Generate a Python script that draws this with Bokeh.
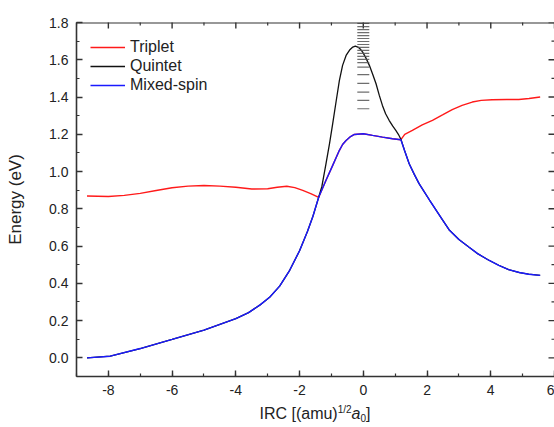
import math
from bokeh.plotting import figure
from bokeh.models import SingleIntervalTicker, NumeralTickFormatter, Legend, LegendItem, Span, Div
from bokeh.layouts import column
from bokeh.embed import file_html
from bokeh.resources import INLINE

# ---- data ----
triplet_x = [-8.67, -8.0, -7.5, -7.0, -6.5, -6.0, -5.5, -5.0, -4.5, -4.0, -3.5, -3.0, -2.7, -2.4,
             -2.15, -1.9, -1.65, -1.4,
             -1.17, -0.96, -0.75, -0.65, -0.54, -0.4, -0.28, 0.0, 0.29, 0.6, 0.92, 1.18,
             1.3, 1.54, 1.85, 2.17, 2.5, 2.79, 3.1, 3.42, 3.7, 4.04, 4.5, 4.88, 5.2, 5.55]
triplet_y = [0.869, 0.866, 0.872, 0.883, 0.898, 0.913, 0.922, 0.925, 0.922, 0.916, 0.906, 0.908, 0.916, 0.921,
             0.914, 0.899, 0.882, 0.862,
             0.953, 1.033, 1.114, 1.145, 1.167, 1.188, 1.199, 1.203, 1.194, 1.185, 1.176, 1.171,
             1.200, 1.221, 1.250, 1.275, 1.305, 1.332, 1.355, 1.373, 1.382, 1.385, 1.387, 1.387, 1.392, 1.400]

quintet_x = [-8.67, -7.94, -7.0, -6.0, -5.0, -4.0, -3.6, -3.25, -2.94, -2.625, -2.31, -2.0, -1.75, -1.58, -1.4,
             -1.3, -1.17, -1.06, -0.96, -0.85, -0.75, -0.65, -0.54, -0.43, -0.33, -0.25, -0.17, -0.08, -0.02,
             0.08, 0.19, 0.3, 0.4, 0.5, 0.6, 0.7, 0.81, 0.92, 1.02, 1.1, 1.18,
             1.3, 1.44, 1.6, 1.75, 2.08, 2.48, 2.69, 3.0, 3.31, 3.6, 3.94, 4.25, 4.56, 4.9, 5.19, 5.55]
quintet_y = [0.0, 0.009, 0.05, 0.099, 0.149, 0.211, 0.243, 0.283, 0.325, 0.385, 0.470, 0.575, 0.680, 0.760, 0.862,
             0.920, 1.042, 1.150, 1.257, 1.380, 1.489, 1.570, 1.623, 1.652, 1.668, 1.673, 1.668, 1.655, 1.641,
             1.610, 1.570, 1.520, 1.471, 1.410, 1.355, 1.310, 1.275, 1.245, 1.221, 1.200, 1.173,
             1.110, 1.042, 0.985, 0.935, 0.846, 0.742, 0.688, 0.635, 0.595, 0.558, 0.524, 0.497, 0.474, 0.458, 0.449, 0.443]

mixed_x = [-8.67, -7.94, -7.0, -6.0, -5.0, -4.0, -3.6, -3.25, -2.94, -2.625, -2.31, -2.0, -1.75, -1.58, -1.4,
           -1.17, -0.96, -0.75, -0.65, -0.54, -0.4, -0.28, 0.0, 0.29, 0.6, 0.92, 1.18,
           1.3, 1.44, 1.6, 1.75, 2.08, 2.48, 2.69, 3.0, 3.31, 3.6, 3.94, 4.25, 4.56, 4.9, 5.19, 5.55]
mixed_y = [0.0, 0.009, 0.05, 0.099, 0.149, 0.211, 0.243, 0.283, 0.325, 0.385, 0.470, 0.575, 0.680, 0.760, 0.862,
           0.953, 1.033, 1.114, 1.145, 1.167, 1.188, 1.199, 1.203, 1.194, 1.185, 1.176, 1.171,
           1.110, 1.042, 0.985, 0.935, 0.846, 0.742, 0.688, 0.635, 0.595, 0.558, 0.524, 0.497, 0.474, 0.458, 0.449, 0.443]

# stack of short horizontal marks at IRC = 0
marks_x = [0.0] * 20
marks_y = [1.795, 1.778, 1.762, 1.746, 1.730, 1.714, 1.698, 1.682, 1.666, 1.650,
           1.634, 1.618, 1.602, 1.585, 1.560, 1.520, 1.473, 1.426, 1.382, 1.337]

# tick positions of the top and right frame edges (no labels there)
top_major = [-8, -6, -4, -2, 0, 2, 4, 6]
top_minor = [-9, -7, -5, -3, -1, 1, 3, 5]
right_major = [0.0, 0.2, 0.4, 0.6, 0.8, 1.0, 1.2, 1.4, 1.6, 1.8]
right_minor = [0.1, 0.3, 0.5, 0.7, 0.9, 1.1, 1.3, 1.5, 1.7]

series_names = ["Triplet", "Quintet", "Mixed-spin"]
series_colors = ["#ff1a1a", "#111111", "#1a1aff"]
y_title = "Energy (eV)"
x_title_html = ('IRC [(amu)<span style="font-size:10px;vertical-align:6px;line-height:0">1/2</span>'
                '<i>a</i><span style="font-size:10px;vertical-align:-3px;line-height:0">0</span>]')

FONT = "Liberation Sans"
AX_COLOR = "#333333"
X0, X1, Y0, Y1 = -9, 6, -0.1, 1.8

p = figure(width=554, height=402, x_range=(X0, X1), y_range=(Y0, Y1),
           output_backend="svg", toolbar_location=None,
           min_border_left=76, min_border_right=0, min_border_top=22, min_border_bottom=26)
p.xgrid.grid_line_color = None
p.ygrid.grid_line_color = None
p.outline_line_color = None
p.background_fill_color = "white"
p.border_fill_color = "white"


def style_axis(ax):
    ax.axis_line_color = AX_COLOR
    ax.axis_line_width = 1.6
    ax.major_tick_line_color = AX_COLOR
    ax.minor_tick_line_color = AX_COLOR
    ax.major_tick_line_width = 1.4
    ax.minor_tick_line_width = 1.2
    ax.major_tick_in = 6
    ax.major_tick_out = 0
    ax.minor_tick_in = 3
    ax.minor_tick_out = 0
    ax.major_label_text_font = FONT
    ax.major_label_text_color = "#222222"
    ax.major_label_text_font_size = "14px"


p.xaxis.ticker = SingleIntervalTicker(interval=2, num_minor_ticks=2)
p.xaxis.formatter = NumeralTickFormatter(format="0")
p.yaxis.ticker = SingleIntervalTicker(interval=0.2, num_minor_ticks=2)
p.yaxis.formatter = NumeralTickFormatter(format="0.0")
style_axis(p.xaxis[0])
style_axis(p.yaxis[0])
p.xaxis.major_label_standoff = 8
p.yaxis.major_label_standoff = 8
p.yaxis.axis_label = y_title
p.yaxis.axis_label_text_font = FONT
p.yaxis.axis_label_text_font_style = "normal"
p.yaxis.axis_label_text_font_size = "17px"
p.yaxis.axis_label_text_color = "#222222"
p.yaxis.axis_label_standoff = 21

# top frame line and inward ticks on the top and right edges
p.add_layout(Span(location=Y1, dimension="width", line_color=AX_COLOR, line_width=2))
p.scatter(top_major, [Y1] * len(top_major), marker="dash", size=12, angle=math.pi / 2,
          line_color=AX_COLOR, line_width=1.4)
p.scatter(top_minor, [Y1] * len(top_minor), marker="dash", size=6, angle=math.pi / 2,
          line_color=AX_COLOR, line_width=1.2)
p.scatter([X1] * len(right_major), right_major, marker="dash", size=12,
          line_color=AX_COLOR, line_width=1.4)
p.scatter([X1] * len(right_minor), right_minor, marker="dash", size=6,
          line_color=AX_COLOR, line_width=1.2)

r_t = p.line(triplet_x, triplet_y, line_color=series_colors[0], line_width=1.4)
r_q = p.line(quintet_x, quintet_y, line_color=series_colors[1], line_width=1.3)
r_m = p.line(mixed_x, mixed_y, line_color=series_colors[2], line_width=1.4)

p.scatter(marks_x, marks_y, marker="dash", size=12, line_color="#555555",
          line_width=1.2, line_alpha=0.85)

legend = Legend(items=[LegendItem(label=series_names[0], renderers=[r_t]),
                       LegendItem(label=series_names[1], renderers=[r_q]),
                       LegendItem(label=series_names[2], renderers=[r_m])],
                location=(14, 282), border_line_color=None, background_fill_alpha=0,
                padding=4, spacing=1, margin=0, glyph_width=35, glyph_height=18,
                label_height=18, label_standoff=5, label_text_font=FONT,
                label_text_font_size="16px", label_text_color="#222222")
p.add_layout(legend, "center")

xtitle = Div(text=x_title_html, width=478, height=25, margin=(0, 0, 0, 76),
             styles={"font-family": FONT, "font-size": "16px", "color": "#222222",
                     "text-align": "center", "padding-top": "3px", "line-height": "17px",
                     "white-space": "nowrap"})

layout = column(p, xtitle, spacing=0)
open("out.html", "w").write(file_html(layout, INLINE))
